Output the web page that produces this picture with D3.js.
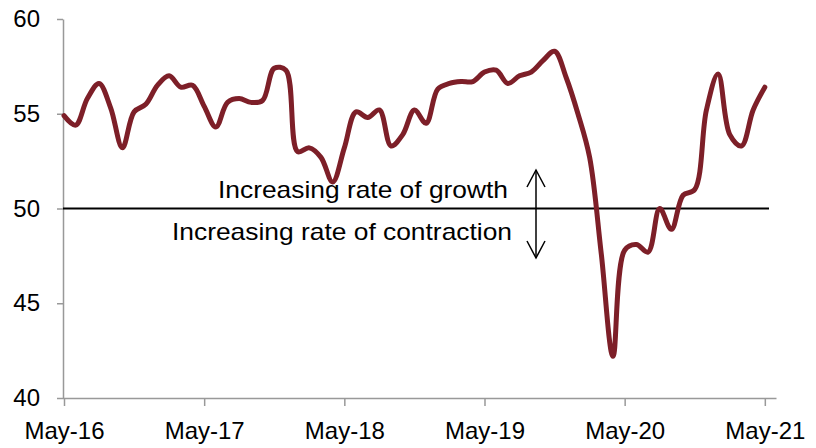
<!DOCTYPE html>
<html>
<head>
<meta charset="utf-8">
<script src="https://cdn.jsdelivr.net/npm/d3@7"></script>
<style>
  body { margin: 0; background: #fff; }
  svg { display: block; font-family: "Liberation Sans", Arial, sans-serif; }
</style>
</head>
<body>
<div id="chart"></div>
<script>
// Monthly index values, May-16 .. May-21
const values = [
    54.9, 54.4, 55.8, 56.6, 55.3, 53.2, 55.1, 55.5, 56.5, 57.0, 56.4, 56.5,
    55.4, 54.3, 55.6, 55.8, 55.6, 55.7, 57.4, 57.3, 53.0, 53.2, 52.7, 51.4,
    53.2, 55.1, 54.8, 55.2, 53.3, 53.9, 55.2, 54.5, 56.3, 56.6, 56.7, 56.7,
    57.2, 57.3, 56.6, 57.0, 57.2, 57.8, 58.3, 56.9, 55.0, 52.7, 47.6, 42.2,
    47.8, 48.1, 47.7, 50.0, 48.9, 50.7, 51.0, 55.2, 57.1, 53.9, 53.3, 55.2,
    56.4
];
const tickMonths = [0, 12, 24, 36, 48, 60];
const tickLabels = ["May-16", "May-17", "May-18", "May-19", "May-20", "May-21"];
const yTicks = [40, 45, 50, 55, 60];
const threshold = 50;
const labelUp = "Increasing rate of growth";
const labelDown = "Increasing rate of contraction";

const width = 816, height = 448;
const axisGrey = "#999999";
const lineColor = "#7d1f28";

const svg = d3.select("#chart").append("svg")
    .attr("width", width)
    .attr("height", height);

// one extra month slot at the end, like the original date axis
const x = d3.scaleLinear().domain([0, values.length]).range([64, 776.5]);
const y = d3.scaleLinear().domain([40, 60]).range([398, 19]);

// y axis
const yAxis = svg.append("g")
    .attr("transform", "translate(63,0)")
    .call(d3.axisLeft(y).tickValues(yTicks).tickSize(6).tickSizeOuter(0).tickPadding(17));
yAxis.select(".domain").attr("stroke", axisGrey).attr("stroke-width", 1.5);
yAxis.selectAll(".tick line").attr("stroke", axisGrey).attr("stroke-width", 1.5);
yAxis.selectAll("text").attr("font-size", 24).attr("fill", "#000")
    .style("font-family", "'Liberation Sans', Arial, sans-serif");

// x axis
const xAxis = svg.append("g")
    .attr("transform", "translate(0,398)")
    .call(d3.axisBottom(x).tickValues(tickMonths).tickSize(8).tickSizeOuter(0)
        .tickFormat((d, i) => tickLabels[i]));
xAxis.select(".domain").attr("stroke", axisGrey).attr("stroke-width", 1.5)
    .attr("d", "M" + 63 + ",0.5H" + x(values.length));
xAxis.selectAll(".tick line").attr("stroke", axisGrey).attr("stroke-width", 1.5);
xAxis.selectAll("text").attr("font-size", 24).attr("fill", "#000")
    .attr("y", 41).attr("dy", 0)
    .style("font-family", "'Liberation Sans', Arial, sans-serif");

// 50 line
svg.append("line")
    .attr("x1", 63).attr("x2", 769)
    .attr("y1", y(threshold)).attr("y2", y(threshold))
    .attr("stroke", "#000").attr("stroke-width", 2);

// annotations (the original font runs a bit wide, so stretch to fit)
svg.append("text")
    .attr("x", 218).attr("y", 198)
    .attr("font-size", 24)
    .attr("textLength", 290)
    .attr("lengthAdjust", "spacingAndGlyphs")
    .text(labelUp);
svg.append("text")
    .attr("x", 172).attr("y", 240)
    .attr("font-size", 24)
    .attr("textLength", 340)
    .attr("lengthAdjust", "spacingAndGlyphs")
    .text(labelDown);

const arrow = svg.append("g")
    .attr("fill", "none").attr("stroke", "#000").attr("stroke-width", 1.5);
arrow.append("line").attr("x1", 536).attr("x2", 536).attr("y1", 170).attr("y2", 258);
arrow.append("path").attr("d", "M527,187L536,170L545,187");
arrow.append("path").attr("d", "M527,241L536,258L545,241");

// data line
const line = d3.line()
    .x((d, i) => x(i))
    .y(d => y(d))
    .curve(d3.curveCatmullRom.alpha(0.5));

svg.append("path")
    .datum(values)
    .attr("fill", "none")
    .attr("stroke", lineColor)
    .attr("stroke-width", 5)
    .attr("stroke-linejoin", "round")
    .attr("stroke-linecap", "round")
    .attr("d", line);
</script>
</body>
</html>
